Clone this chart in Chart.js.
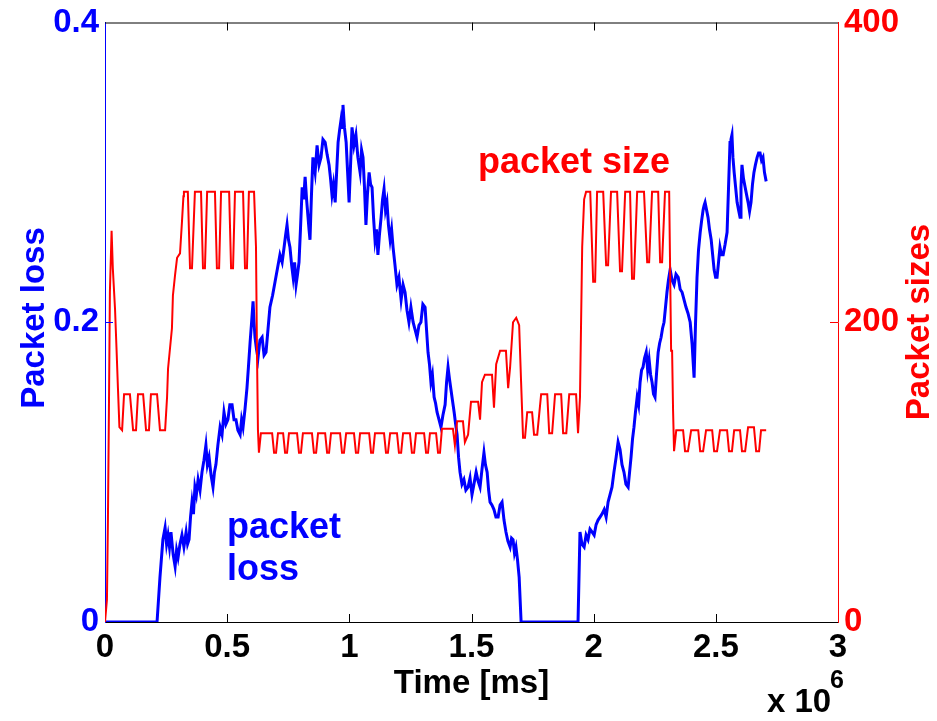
<!DOCTYPE html>
<html>
<head>
<meta charset="utf-8">
<script src="https://cdn.jsdelivr.net/npm/chart.js@4.4.0/dist/chart.umd.min.js"></script>
<style>
  html, body { margin: 0; padding: 0; background: #fff; }
  #wrap { width: 937px; height: 721px; }
</style>
</head>
<body>
<div id="wrap"><canvas id="chart" width="937" height="721"></canvas></div>
<script>
// Packet loss (left axis) and packet size (right axis) against time, x in units of 10^6 ms.

// ── Data ────────────────────────────────────────────────────────────────────
const LOSS_T = [0, 0.213, 0.225, 0.237, 0.246, 0.252, 0.258, 0.264, 0.270, 0.279, 0.287, 0.293, 0.299, 0.307,
  0.315, 0.323, 0.332, 0.338, 0.344, 0.350, 0.356, 0.362, 0.368, 0.374, 0.381, 0.389, 0.397, 0.405, 0.413, 0.419,
  0.426, 0.434, 0.442, 0.448, 0.454, 0.462, 0.471, 0.479, 0.487, 0.495, 0.503, 0.511, 0.520, 0.528, 0.536, 0.544,
  0.553, 0.559, 0.565, 0.573, 0.581, 0.587, 0.594, 0.600, 0.606, 0.610, 0.614, 0.620, 0.626, 0.634, 0.643, 0.651,
  0.659, 0.667, 0.675, 0.686, 0.696, 0.706, 0.716, 0.725, 0.733, 0.739, 0.745, 0.751, 0.757, 0.764, 0.770, 0.776,
  0.782, 0.788, 0.794, 0.800, 0.807, 0.813, 0.819, 0.825, 0.831, 0.835, 0.839, 0.845, 0.851, 0.860, 0.868, 0.876,
  0.884, 0.892, 0.901, 0.909, 0.917, 0.923, 0.929, 0.935, 0.942, 0.948, 0.954, 0.960, 0.966, 0.970, 0.974, 0.980,
  0.987, 0.993, 0.999, 1.005, 1.011, 1.019, 1.027, 1.035, 1.044, 1.050, 1.056, 1.062, 1.068, 1.074, 1.081, 1.087,
  1.093, 1.099, 1.105, 1.111, 1.117, 1.123, 1.130, 1.136, 1.142, 1.148, 1.154, 1.160, 1.167, 1.173, 1.179, 1.187,
  1.195, 1.203, 1.212, 1.220, 1.228, 1.236, 1.244, 1.252, 1.261, 1.269, 1.277, 1.285, 1.293, 1.301, 1.310, 1.316,
  1.322, 1.328, 1.334, 1.340, 1.347, 1.353, 1.359, 1.367, 1.375, 1.383, 1.392, 1.398, 1.404, 1.410, 1.416, 1.422,
  1.429, 1.435, 1.441, 1.447, 1.453, 1.461, 1.469, 1.477, 1.486, 1.494, 1.502, 1.510, 1.519, 1.527, 1.535, 1.543,
  1.551, 1.557, 1.564, 1.570, 1.576, 1.584, 1.592, 1.600, 1.609, 1.617, 1.625, 1.633, 1.641, 1.649, 1.658, 1.664,
  1.670, 1.676, 1.682, 1.688, 1.695, 1.703, 1.936, 1.944, 1.952, 1.961, 1.969, 1.977, 1.985, 1.994, 2.002, 2.010,
  2.018, 2.026, 2.034, 2.043, 2.051, 2.059, 2.067, 2.075, 2.083, 2.092, 2.100, 2.108, 2.116, 2.124, 2.132, 2.141,
  2.147, 2.153, 2.159, 2.165, 2.171, 2.178, 2.184, 2.190, 2.196, 2.202, 2.208, 2.215, 2.221, 2.227, 2.233, 2.239,
  2.245, 2.251, 2.257, 2.264, 2.270, 2.276, 2.282, 2.288, 2.294, 2.300, 2.306, 2.313, 2.321, 2.329, 2.337, 2.346,
  2.354, 2.362, 2.370, 2.378, 2.386, 2.395, 2.403, 2.411, 2.417, 2.423, 2.429, 2.436, 2.442, 2.448, 2.452, 2.456,
  2.462, 2.468, 2.474, 2.481, 2.487, 2.493, 2.499, 2.505, 2.511, 2.517, 2.523, 2.530, 2.538, 2.546, 2.552, 2.558,
  2.562, 2.566, 2.570, 2.575, 2.581, 2.587, 2.593, 2.599, 2.603, 2.607, 2.613, 2.620, 2.626, 2.632, 2.638, 2.644,
  2.650, 2.656, 2.662, 2.669, 2.675, 2.681, 2.687, 2.693, 2.699, 2.706];
const LOSS_V = [0, 0, 0.030, 0.055, 0.063, 0.052, 0.058, 0.050, 0.060, 0.045, 0.037, 0.048, 0.043, 0.052,
  0.058, 0.050, 0.060, 0.052, 0.055, 0.070, 0.080, 0.072, 0.090, 0.085, 0.095, 0.088, 0.100, 0.108, 0.118, 0.105,
  0.110, 0.098, 0.090, 0.100, 0.105, 0.118, 0.130, 0.125, 0.140, 0.132, 0.135, 0.145, 0.145, 0.135, 0.135, 0.128,
  0.125, 0.135, 0.130, 0.142, 0.156, 0.170, 0.187, 0.200, 0.214, 0.200, 0.190, 0.182, 0.176, 0.188, 0.190, 0.178,
  0.180, 0.195, 0.210, 0.218, 0.227, 0.236, 0.245, 0.240, 0.250, 0.258, 0.265, 0.255, 0.250, 0.238, 0.230, 0.240,
  0.225, 0.232, 0.240, 0.262, 0.290, 0.282, 0.297, 0.282, 0.270, 0.262, 0.255, 0.285, 0.310, 0.300, 0.318, 0.305,
  0.310, 0.322, 0.320, 0.312, 0.305, 0.296, 0.285, 0.292, 0.280, 0.300, 0.320, 0.328, 0.335, 0.330, 0.345, 0.330,
  0.320, 0.300, 0.280, 0.305, 0.330, 0.318, 0.325, 0.310, 0.300, 0.315, 0.310, 0.290, 0.265, 0.285, 0.300, 0.292,
  0.290, 0.270, 0.255, 0.262, 0.245, 0.258, 0.270, 0.282, 0.289, 0.275, 0.280, 0.265, 0.255, 0.262, 0.250, 0.238,
  0.225, 0.230, 0.215, 0.225, 0.220, 0.208, 0.200, 0.210, 0.200, 0.195, 0.190, 0.198, 0.200, 0.212, 0.210, 0.195,
  0.180, 0.172, 0.160, 0.165, 0.150, 0.146, 0.140, 0.135, 0.130, 0.138, 0.145, 0.160, 0.170, 0.162, 0.155, 0.148,
  0.140, 0.132, 0.125, 0.110, 0.100, 0.092, 0.095, 0.088, 0.090, 0.096, 0.085, 0.092, 0.100, 0.094, 0.090, 0.102,
  0.113, 0.105, 0.100, 0.088, 0.080, 0.078, 0.075, 0.070, 0.070, 0.078, 0.080, 0.068, 0.060, 0.054, 0.050, 0.056,
  0.055, 0.046, 0.050, 0.042, 0.030, 0, 0, 0.060, 0.052, 0.050, 0.058, 0.055, 0.062, 0.060, 0.058, 0.065,
  0.068, 0.070, 0.072, 0.075, 0.070, 0.080, 0.085, 0.090, 0.100, 0.110, 0.120, 0.115, 0.105, 0.100, 0.092, 0.090,
  0.100, 0.110, 0.122, 0.130, 0.140, 0.150, 0.145, 0.160, 0.168, 0.170, 0.176, 0.180, 0.168, 0.175, 0.165, 0.160,
  0.152, 0.150, 0.165, 0.180, 0.186, 0.190, 0.196, 0.200, 0.210, 0.220, 0.228, 0.235, 0.228, 0.225, 0.232, 0.230,
  0.222, 0.220, 0.215, 0.210, 0.206, 0.200, 0.185, 0.163, 0.200, 0.230, 0.248, 0.260, 0.268, 0.275, 0.278, 0.280,
  0.275, 0.270, 0.262, 0.255, 0.245, 0.235, 0.230, 0.230, 0.240, 0.250, 0.245, 0.245, 0.252, 0.260, 0.290, 0.320,
  0.322, 0.325, 0.310, 0.300, 0.290, 0.280, 0.275, 0.270, 0.290, 0.305, 0.296, 0.290, 0.285, 0.280, 0.274, 0.280,
  0.292, 0.300, 0.305, 0.310, 0.313, 0.313, 0.308, 0.310, 0.300, 0.294];

const SIZE_T = [0, 0.008, 0.012, 0.016, 0.020, 0.027, 0.032, 0.041, 0.047, 0.053, 0.059, 0.070, 0.078, 0.102,
  0.115, 0.127, 0.135, 0.156, 0.168, 0.180, 0.188, 0.213, 0.225, 0.246, 0.254, 0.258, 0.274, 0.278, 0.287, 0.295,
  0.307, 0.315, 0.321, 0.323, 0.339, 0.348, 0.356, 0.368, 0.393, 0.401, 0.409, 0.418, 0.450, 0.458, 0.467, 0.475,
  0.508, 0.516, 0.524, 0.532, 0.565, 0.573, 0.581, 0.589, 0.610, 0.618, 0.622, 0.626, 0.630, 0.638, 0.684, 0.692,
  0.700, 0.708, 0.729, 0.737, 0.745, 0.753, 0.786, 0.794, 0.802, 0.810, 0.847, 0.855, 0.864, 0.872, 0.901, 0.909,
  0.917, 0.925, 0.962, 0.970, 0.978, 0.987, 1.019, 1.027, 1.036, 1.044, 1.081, 1.089, 1.097, 1.105, 1.142, 1.150,
  1.158, 1.167, 1.195, 1.203, 1.212, 1.220, 1.248, 1.256, 1.265, 1.273, 1.306, 1.314, 1.322, 1.330, 1.355, 1.363,
  1.371, 1.379, 1.424, 1.432, 1.441, 1.465, 1.473, 1.486, 1.498, 1.527, 1.535, 1.543, 1.555, 1.584, 1.592, 1.601,
  1.617, 1.641, 1.650, 1.658, 1.670, 1.683, 1.695, 1.703, 1.711, 1.719, 1.728, 1.748, 1.756, 1.769, 1.785, 1.810,
  1.818, 1.830, 1.842, 1.867, 1.875, 1.888, 1.900, 1.928, 1.936, 1.944, 1.953, 1.961, 1.969, 1.986, 1.998, 2.006,
  2.014, 2.039, 2.051, 2.059, 2.071, 2.096, 2.108, 2.116, 2.129, 2.149, 2.157, 2.165, 2.178, 2.206, 2.219, 2.227,
  2.239, 2.264, 2.272, 2.280, 2.292, 2.309, 2.317, 2.321, 2.325, 2.329, 2.338, 2.366, 2.374, 2.386, 2.399, 2.428,
  2.436, 2.448, 2.460, 2.485, 2.493, 2.505, 2.517, 2.546, 2.554, 2.566, 2.575, 2.599, 2.607, 2.620, 2.632, 2.656,
  2.665, 2.677, 2.685, 2.706];
const SIZE_V = [0, 15, 68, 140, 220, 261, 236, 209, 183, 156, 130, 128, 152, 152,
  128, 128, 152, 152, 128, 128, 152, 152, 128, 128, 150, 169, 196, 218, 232, 243,
  246, 267, 284, 287, 287, 236, 236, 287, 287, 236, 236, 287, 287, 236, 236, 287,
  287, 236, 236, 287, 287, 236, 236, 287, 287, 250, 180, 128, 113, 126, 126, 113,
  113, 126, 126, 113, 113, 126, 126, 113, 113, 126, 126, 113, 113, 126, 126, 113,
  113, 126, 126, 113, 113, 126, 126, 113, 113, 126, 126, 113, 113, 126, 126, 113,
  113, 126, 126, 113, 113, 126, 126, 113, 113, 126, 126, 113, 113, 126, 126, 113,
  113, 129, 129, 118, 134, 134, 120, 125, 147, 147, 135, 160, 165, 165, 143, 172,
  181, 181, 156, 170, 200, 203, 198, 160, 123, 123, 140, 140, 125, 125, 152, 152,
  126, 126, 152, 152, 126, 126, 152, 152, 126, 150, 250, 282, 287, 287, 227, 227,
  287, 287, 238, 238, 287, 287, 234, 234, 287, 287, 229, 229, 287, 287, 240, 240,
  287, 287, 240, 240, 287, 287, 181, 181, 141, 114, 128, 128, 114, 114, 128, 128,
  114, 114, 128, 128, 114, 114, 128, 128, 114, 114, 128, 128, 114, 114, 130, 130,
  114, 114, 128, 128];

const X_TICKS    = [0, 0.5, 1, 1.5, 2, 2.5, 3];
const LOSS_TICKS = [0, 0.2, 0.4];
const SIZE_TICKS = [0, 200, 400];

// ── Styling ─────────────────────────────────────────────────────────────────
const BLUE = '#0000ff';
const RED  = '#ff0000';
const FAMILY = "'Liberation Sans', Arial, Helvetica, sans-serif";
const TICK_FONT = { family: FAMILY, size: 33, weight: 'bold', lineHeight: 1 };

function pts(ts, vs) { return ts.map((t, i) => ({ x: t, y: vs[i] })); }
function fixTicks(list) { return scale => { scale.ticks = list.map(v => ({ value: v })); }; }
function plain(v) { return String(v); }

// Matlab-like decorations: box top edge, inward ticks, axis titles and in-plot labels.
const decorations = {
  id: 'decorations',
  afterDraw(chart) {
    const { ctx, chartArea: a, scales } = chart;
    ctx.save();
    ctx.lineWidth = 1;

    ctx.strokeStyle = '#000';
    ctx.beginPath(); ctx.moveTo(a.left, a.top + 0.5); ctx.lineTo(a.right, a.top + 0.5); ctx.stroke();

    X_TICKS.slice(1, -1).forEach(v => {
      const x = Math.round(scales.x.getPixelForValue(v)) + 0.5;
      ctx.beginPath(); ctx.moveTo(x, a.bottom); ctx.lineTo(x, a.bottom - 8); ctx.stroke();
      ctx.beginPath(); ctx.moveTo(x, a.top); ctx.lineTo(x, a.top + 8); ctx.stroke();
    });
    ctx.strokeStyle = BLUE;
    const yl = Math.round(scales.yLoss.getPixelForValue(0.2)) + 0.5;
    ctx.beginPath(); ctx.moveTo(a.left, yl); ctx.lineTo(a.left + 8, yl); ctx.stroke();
    ctx.strokeStyle = RED;
    const yr = Math.round(scales.ySize.getPixelForValue(200)) + 0.5;
    ctx.beginPath(); ctx.moveTo(a.right, yr); ctx.lineTo(a.right - 8, yr); ctx.stroke();

    ctx.textAlign = 'center';
    ctx.textBaseline = 'middle';
    ctx.font = `bold 33px ${FAMILY}`;

    ctx.fillStyle = '#000';
    ctx.fillText('Time [ms]', (a.left + a.right) / 2, 684);
    ctx.textAlign = 'left';
    ctx.textBaseline = 'alphabetic';
    ctx.fillText('x 10', 767, 712);
    ctx.font = `bold 25px ${FAMILY}`;
    ctx.fillText('6', 830, 688);

    ctx.font = `bold 33px ${FAMILY}`;
    ctx.textAlign = 'center';
    ctx.textBaseline = 'middle';
    ctx.save();
    ctx.translate(35, 318); ctx.rotate(-Math.PI / 2);
    ctx.fillStyle = BLUE; ctx.fillText('Packet loss', 0, 0);
    ctx.restore();
    ctx.save();
    ctx.translate(920, 322); ctx.rotate(-Math.PI / 2);
    ctx.fillStyle = RED; ctx.fillText('Packet sizes', 0, 0);
    ctx.restore();

    ctx.font = `bold 36px ${FAMILY}`;
    ctx.textAlign = 'left';
    ctx.textBaseline = 'alphabetic';
    ctx.fillStyle = RED;
    ctx.fillText('packet size', 478, 173);
    ctx.fillStyle = BLUE;
    ctx.fillText('packet', 227, 538);
    ctx.fillText('loss', 227, 580);
    ctx.restore();
  }
};

new Chart(document.getElementById('chart'), {
  type: 'scatter',
  data: {
    datasets: [
      {
        label: 'packet size',
        data: pts(SIZE_T, SIZE_V),
        yAxisID: 'ySize',
        showLine: true,
        borderColor: RED,
        borderWidth: 2,
        pointRadius: 0,
        tension: 0,
      },
      {
        label: 'packet loss',
        data: pts(LOSS_T, LOSS_V),
        yAxisID: 'yLoss',
        showLine: true,
        borderColor: BLUE,
        borderWidth: 3,
        pointRadius: 0,
        tension: 0,
      },
    ]
  },
  options: {
    responsive: false,
    animation: false,
    devicePixelRatio: 1,
    layout: { padding: { top: 18, left: 0, right: 0, bottom: 0 } },
    plugins: { legend: { display: false }, tooltip: { enabled: false } },
    scales: {
      x: {
        type: 'linear', min: 0, max: 3,
        afterBuildTicks: fixTicks(X_TICKS),
        afterFit: s => { s.height = 99; },
        grid: { display: false, drawTicks: false },
        border: { display: true, color: '#000', width: 1 },
        ticks: { color: '#000', font: TICK_FONT, padding: 9, maxRotation: 0, autoSkip: false, callback: plain },
      },
      yLoss: {
        type: 'linear', position: 'left', min: 0, max: 0.4,
        afterBuildTicks: fixTicks(LOSS_TICKS),
        afterFit: s => { s.width = 105; },
        grid: { display: false, drawTicks: false },
        border: { display: true, color: BLUE, width: 1 },
        ticks: { color: BLUE, font: TICK_FONT, padding: 6, callback: plain },
      },
      ySize: {
        type: 'linear', position: 'right', min: 0, max: 400,
        afterBuildTicks: fixTicks(SIZE_TICKS),
        afterFit: s => { s.width = 99; },
        grid: { display: false, drawTicks: false },
        border: { display: true, color: RED, width: 1 },
        ticks: { color: RED, font: TICK_FONT, padding: 6, callback: plain },
      },
    }
  },
  plugins: [decorations]
});
</script>
</body>
</html>
